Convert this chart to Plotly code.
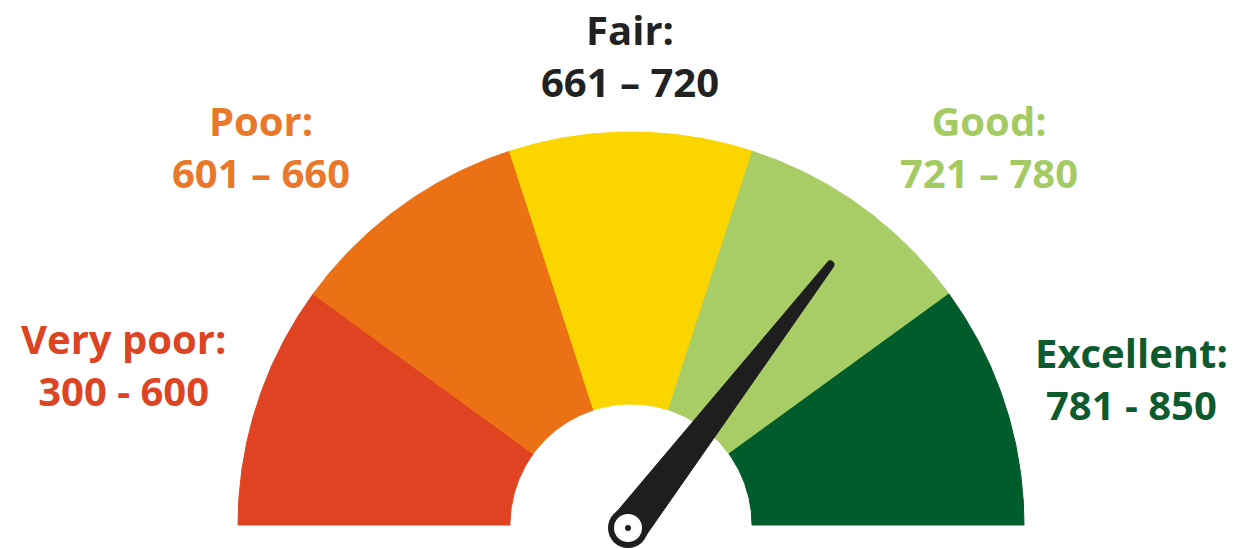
import numpy as np
import plotly.graph_objects as go

# ---------------- data ----------------
categories = ["Very poor", "Poor", "Fair", "Good", "Excellent"]
range_low = [300, 601, 661, 721, 781]
range_high = [600, 660, 720, 780, 850]
range_labels = ["300 - 600", "601 – 660", "661 – 720", "721 – 780", "781 - 850"]
needle_score = 753

# ---------------- style ----------------
seg_colors = ["#E04322", "#EC7115", "#FBD500", "#A9CD66", "#005C2A"]
label_colors = ["#DC4423", "#E9782A", "#222222", "#A4CB63", "#0C5A2E"]
needle_color = "#1E1E1E"

W, H = 1237, 548
CX, CY = 631, 525          # gauge centre in pixels
SCALE = 393.0              # pixels per unit radius
R_OUT, R_IN = 1.0, 0.308

# label placement (pixel centre of each two-line block)
label_x = [123, 261, 630, 989, 1131]
label_y = [364, 147, 55, 147, 378]
FONT_SIZE = 40

fig = go.Figure()

n = len(categories)
span = 180.0 / n
for i in range(n):
    a0 = 180 - i * span
    a1 = 180 - (i + 1) * span
    t = np.radians(np.linspace(a0, a1, 80))
    xs = np.concatenate([R_OUT * np.cos(t), R_IN * np.cos(t[::-1]), [R_OUT * np.cos(t[0])]])
    ys = np.concatenate([R_OUT * np.sin(t), R_IN * np.sin(t[::-1]), [R_OUT * np.sin(t[0])]])
    fig.add_trace(go.Scatter(
        x=xs, y=ys, mode="lines", fill="toself",
        fillcolor=seg_colors[i], line=dict(color=seg_colors[i], width=1),
        hoverinfo="skip", showlegend=False, name=categories[i]))

# needle angle from score (each band occupies an equal sector)
edges = [range_low[0]] + [(range_high[i] + range_low[i + 1]) / 2 for i in range(n - 1)] + [range_high[-1]]
angles_from_left = [i * span for i in range(n + 1)]
theta = np.radians(180 - np.interp(needle_score, edges, angles_from_left))

# pivot (slightly below the baseline in the original)
px, py = -3 / SCALE, -3 / SCALE
L = 332 / SCALE
hw0, hw1 = 19 / SCALE, 4 / SCALE
u = np.array([np.cos(theta), np.sin(theta)])
nrm = np.array([-np.sin(theta), np.cos(theta)])
P = np.array([px, py])
tip = P + L * u
arc = np.linspace(0, np.pi, 24)
tip_pts = [tip + hw1 * (np.cos(a) * nrm + np.sin(a) * u) for a in arc]
pts = np.array([P + hw0 * nrm] + tip_pts + [P - hw0 * nrm, P + hw0 * nrm])
fig.add_trace(go.Scatter(
    x=pts[:, 0], y=pts[:, 1], mode="lines", fill="toself",
    fillcolor=needle_color, line=dict(color=needle_color, width=1),
    hoverinfo="skip", showlegend=False))

# pivot rings
for size, col in [(40, needle_color), (28, "white"), (6, needle_color)]:
    fig.add_trace(go.Scatter(
        x=[px], y=[py], mode="markers",
        marker=dict(size=size, color=col, line=dict(width=0)),
        hoverinfo="skip", showlegend=False, cliponaxis=False))

# labels
for i in range(n):
    fig.add_annotation(
        x=label_x[i] / W, y=1 - label_y[i] / H, xref="paper", yref="paper",
        xanchor="center", yanchor="middle", align="center", showarrow=False,
        text=f"{categories[i]}:<br>{range_labels[i]}",
        font=dict(family="Open Sans", size=FONT_SIZE, color=label_colors[i], weight="bold"))

fig.update_layout(
    width=W, height=H,
    margin=dict(l=0, r=0, t=0, b=0),
    paper_bgcolor="white", plot_bgcolor="white",
    xaxis=dict(range=[-CX / SCALE, (W - CX) / SCALE], visible=False, fixedrange=True),
    yaxis=dict(range=[-(H - CY) / SCALE, CY / SCALE], visible=False, fixedrange=True),
    showlegend=False,
)

fig.write_html("out.html", config={"displayModeBar": False},
               post_script="document.body.style.margin='0';document.body.style.overflow='hidden';")
